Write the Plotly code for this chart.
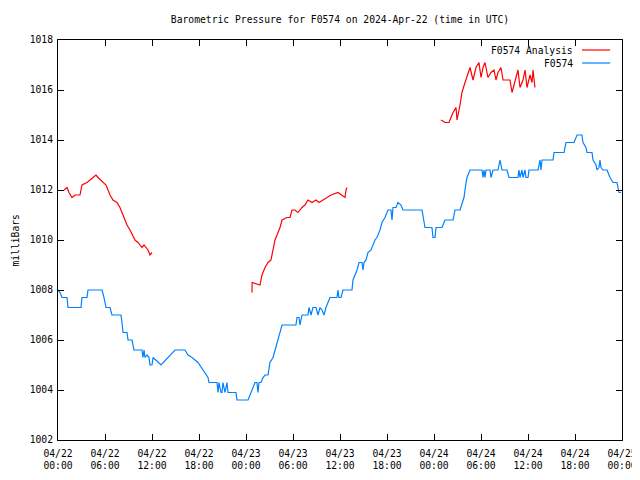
import pandas as pd
import plotly.graph_objects as go

start = pd.Timestamp("2024-04-22 00:00")

# hours since 2024-04-22 00:00 UTC and pressures (mbar)
obs_hours = [0.0, 0.26, 0.51, 1.15, 1.28, 2.94, 3.06, 3.70, 3.83, 5.62, 5.87, 6.13, 6.64, 6.89, 7.28,
             8.04, 8.17, 8.30, 8.81, 8.94, 9.45, 9.70, 10.72, 10.85, 10.98, 11.11, 11.36, 11.62, 11.74,
             12.0, 12.13, 12.51, 13.15, 14.94, 16.21, 16.6, 17.11, 17.87, 18.51, 18.89, 19.15, 19.28,
             20.30, 20.43, 20.55, 20.81, 20.94, 21.06, 21.32, 21.57, 21.70, 22.72, 22.85, 24.26, 24.51,
             24.89, 25.15, 25.40, 25.53, 25.66, 25.91, 26.17, 26.43, 26.81, 27.06, 27.45, 27.70, 28.09,
             28.34, 28.60, 30.38, 30.51, 30.77, 30.89, 31.15, 31.91, 32.04, 32.30, 32.55, 32.94, 33.19,
             33.45, 33.70, 33.96, 34.21, 34.47, 34.72, 35.62, 35.74, 35.87, 36.13, 36.38, 37.53, 37.66,
             37.91, 38.17, 38.43, 38.81, 38.94, 39.06, 39.32, 39.57, 39.96, 40.21, 40.47, 40.72, 41.11,
             41.36, 41.74, 42.13, 42.51, 42.64, 42.77, 43.15, 43.40, 43.79, 44.04, 46.47, 46.85, 47.74,
             47.87, 48.13, 48.26, 49.02, 49.40, 50.43, 50.68, 51.32, 51.57, 51.83, 52.09, 52.21, 52.60,
             54.13, 54.26, 54.38, 54.51, 54.64, 55.15, 55.28, 55.53, 56.17, 56.43, 56.68, 57.32, 57.57,
             58.72, 58.85, 58.98, 59.23, 59.36, 59.62, 59.74, 60.0, 60.13, 60.64, 61.28, 61.53, 61.66,
             61.79, 62.04, 63.19, 63.32, 64.60, 64.85, 65.87, 66.26, 66.89, 67.02, 67.40, 67.53, 68.17,
             68.30, 68.68, 68.81, 69.06, 69.19, 69.32, 69.57, 70.09, 70.47, 70.72, 70.85, 71.36, 71.62,
             71.87]
obs_mbar = [1008.0, 1007.9, 1007.7, 1007.7, 1007.3, 1007.3, 1007.7, 1007.7, 1008.0, 1008.0, 1007.7, 1007.3,
            1007.3, 1007.0, 1007.0, 1007.0, 1006.7, 1006.3, 1006.3, 1006.0, 1006.0, 1005.6, 1005.6, 1005.3,
            1005.6, 1005.3, 1005.4, 1005.3, 1005.0, 1005.0, 1005.3, 1005.2, 1005.0, 1005.6, 1005.6, 1005.4,
            1005.3, 1005.1, 1004.8, 1004.6, 1004.5, 1004.3, 1004.3, 1003.9, 1004.3, 1003.9, 1003.9, 1004.3,
            1003.9, 1004.3, 1003.9, 1003.9, 1003.6, 1003.6, 1003.8, 1004.1, 1004.3, 1004.3, 1003.9, 1004.3,
            1004.3, 1004.5, 1004.6, 1004.6, 1005.1, 1005.3, 1005.6, 1006.1, 1006.3, 1006.6, 1006.6, 1006.9,
            1006.9, 1006.6, 1007.0, 1007.0, 1007.3, 1007.0, 1007.3, 1007.3, 1007.0, 1007.3, 1007.2, 1007.0,
            1007.3, 1007.5, 1007.7, 1007.7, 1008.0, 1007.7, 1007.7, 1008.0, 1008.0, 1008.4, 1008.6, 1008.8,
            1009.1, 1009.1, 1008.8, 1009.1, 1009.2, 1009.5, 1009.6, 1009.8, 1010.0, 1010.1, 1010.4, 1010.7,
            1010.9, 1011.2, 1011.2, 1010.8, 1011.3, 1011.3, 1011.5, 1011.4, 1011.2, 1011.2, 1010.5, 1010.5,
            1010.1, 1010.1, 1010.5, 1010.5, 1010.8, 1010.8, 1011.2, 1011.2, 1011.5, 1011.7, 1012.3, 1012.5,
            1012.8, 1012.8, 1012.5, 1012.8, 1012.5, 1012.8, 1012.8, 1012.5, 1012.8, 1012.8, 1013.2, 1012.8,
            1012.8, 1012.5, 1012.5, 1012.8, 1012.5, 1012.8, 1012.5, 1012.8, 1012.5, 1012.5, 1012.8, 1012.8,
            1012.8, 1013.2, 1012.8, 1013.2, 1013.2, 1013.2, 1013.5, 1013.5, 1013.9, 1013.9, 1014.2, 1014.2,
            1013.9, 1013.7, 1013.5, 1013.5, 1013.2, 1013.0, 1012.8, 1012.9, 1013.2, 1012.9, 1012.8, 1012.8,
            1012.5, 1012.4, 1012.3, 1012.3, 1011.9, 1011.9]

ana1_hours = [0.77, 1.15, 1.40, 1.79, 2.17, 2.81, 3.06, 3.70, 4.09, 4.47, 4.85, 5.11, 5.74, 6.13, 6.64,
              7.02, 7.53, 7.91, 8.30, 8.81, 9.19, 9.83, 10.21, 10.72, 10.98, 11.49, 11.74, 12.0]
ana1_mbar = [1012.0, 1012.1, 1011.9, 1011.7, 1011.8, 1011.8, 1012.2, 1012.3, 1012.4, 1012.5, 1012.6, 1012.5,
             1012.3, 1012.2, 1011.8, 1011.6, 1011.5, 1011.3, 1011.0, 1010.6, 1010.4, 1010.0, 1009.9, 1009.7,
             1009.8, 1009.6, 1009.4, 1009.5]

ana2_hours = [24.77, 24.78, 25.79, 26.04, 26.43, 26.81, 27.19, 27.45, 27.70, 27.96, 28.34, 28.60, 29.23,
              29.62, 29.87, 30.26, 30.64, 31.15, 31.53, 31.91, 32.43, 32.94, 33.32, 33.83, 34.34, 34.85,
              35.74, 36.26, 36.64, 36.77, 36.89]
ana2_mbar = [1007.9, 1008.3, 1008.2, 1008.6, 1008.9, 1009.1, 1009.2, 1009.6, 1010.0, 1010.2, 1010.5, 1010.8,
             1010.9, 1010.9, 1011.2, 1011.2, 1011.1, 1011.3, 1011.4, 1011.6, 1011.5, 1011.6, 1011.5, 1011.6,
             1011.7, 1011.8, 1011.9, 1011.8, 1011.7, 1012.0, 1012.1]

ana3_hours = [48.89, 49.40, 49.91, 50.43, 50.81, 50.94, 51.32, 51.57, 51.96, 52.34, 52.60, 52.98, 53.36,
              53.74, 54.0, 54.26, 54.51, 54.89, 55.28, 55.66, 55.91, 56.17, 56.55, 56.81, 57.70, 57.96,
              58.34, 58.72, 58.98, 59.36, 59.62, 59.87, 60.26, 60.51, 60.64, 60.89]
ana3_mbar = [1014.8, 1014.7, 1014.7, 1015.1, 1015.3, 1014.8, 1015.4, 1015.9, 1016.3, 1016.7, 1016.9, 1016.4,
             1016.9, 1017.1, 1016.5, 1016.9, 1017.1, 1016.5, 1016.7, 1016.8, 1016.4, 1016.7, 1016.9, 1016.4,
             1016.4, 1015.9, 1016.4, 1016.8, 1016.1, 1016.4, 1016.8, 1016.1, 1016.6, 1016.3, 1016.8, 1016.1]

RED = "#ff0000"
BLUE = "#0080ff"
FONT = "DejaVu Sans Mono"
FS = 9.7


def to_time(hours):
    return [start + pd.Timedelta(hours=h) for h in hours]


# analysis series with gaps between segments
ana_x = to_time(ana1_hours) + [None] + to_time(ana2_hours) + [None] + to_time(ana3_hours)
ana_y = ana1_mbar + [None] + ana2_mbar + [None] + ana3_mbar

fig = go.Figure()
fig.add_trace(go.Scatter(x=ana_x, y=ana_y, mode="lines", name="F0574 Analysis",
                         line=dict(color=RED, width=1.2), connectgaps=False))
fig.add_trace(go.Scatter(x=to_time(obs_hours), y=obs_mbar, mode="lines", name="F0574",
                         line=dict(color=BLUE, width=1.2)))

tickvals = [start + pd.Timedelta(hours=6 * i) for i in range(13)]
ticktext = [t.strftime("%m/%d") + "<br>" + t.strftime("%H:%M") for t in tickvals]

axis_common = dict(showline=True, linecolor="black", linewidth=1, mirror="ticks",
                   ticks="inside", ticklen=6, tickcolor="black", showgrid=False, zeroline=False,
                   automargin=False,
                   tickfont=dict(family=FONT, size=FS, color="black"))

fig.update_xaxes(type="date", range=[tickvals[0], tickvals[-1]], tickvals=tickvals,
                 ticktext=ticktext, ticklabelstandoff=4, **axis_common)
fig.update_yaxes(range=[1002, 1018], tickvals=list(range(1002, 1019, 2)),
                 ticklabelstandoff=2, **axis_common)

fig.add_annotation(x=-0.077, y=0.5, xref="paper", yref="paper", text="milliBars", showarrow=False,
                   textangle=-90, xanchor="center", yanchor="middle",
                   font=dict(family=FONT, size=FS, color="black"))

# gnuplot-style legend: text right-aligned, line sample to the right
legend_items = [("F0574 Analysis", RED, 0.975), ("F0574", BLUE, 0.9425)]
for label, color, yy in legend_items:
    fig.add_annotation(x=0.916, y=yy, xref="paper", yref="paper", text=label, showarrow=False,
                       xanchor="right", yanchor="middle", font=dict(family=FONT, size=FS, color="black"))
    fig.add_shape(type="line", xref="paper", yref="paper", x0=0.929, x1=0.979, y0=yy, y1=yy,
                  line=dict(color=color, width=1.2))

# the page body has an 8px default margin, so the figure is sized to fit the 640x480 window
fig.update_layout(
    width=632, height=472,
    margin=dict(l=50, r=18, t=32, b=40),
    paper_bgcolor="white", plot_bgcolor="white",
    showlegend=False,
    title=dict(text="Barometric Pressure for F0574 on 2024-Apr-22 (time in UTC)",
               x=0.5, xanchor="center", xref="paper", y=0.975, yanchor="middle",
               font=dict(family=FONT, size=FS, color="black")),
)

fig.write_html("out.html")
